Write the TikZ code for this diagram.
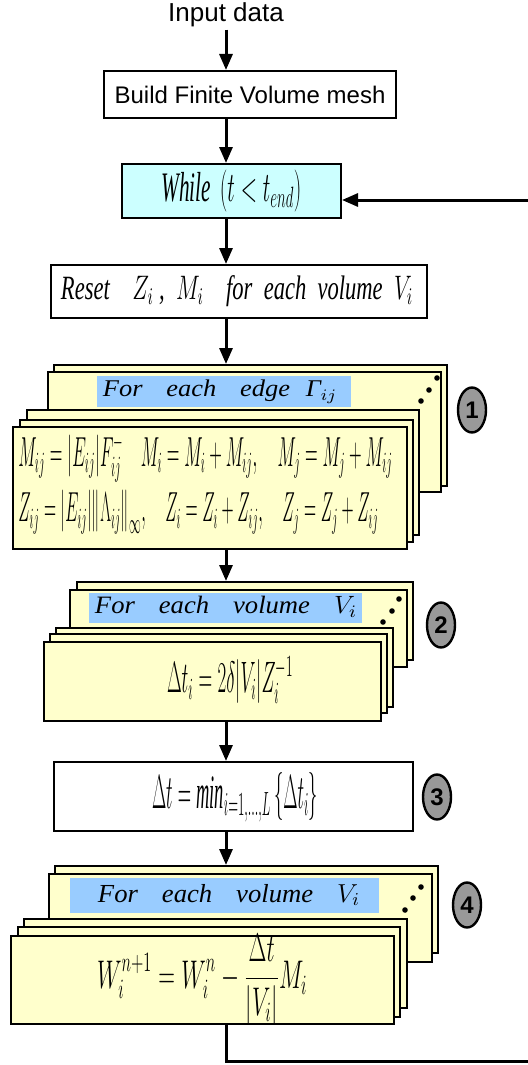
\RequirePackage{fix-cm}
\documentclass[tikz,border=0pt]{standalone}
\usepackage{fontspec}
\setmainfont{Liberation Serif}
\newfontfamily\arial{Liberation Sans}
\usepackage{graphicx}
\usetikzlibrary{arrows.meta,fit,shapes.geometric}

\definecolor{listok}{HTML}{FFFFCC}
\definecolor{goluboy}{HTML}{99CCFF}
\definecolor{biryuza}{HTML}{CCFFFF}
\definecolor{seryy}{HTML}{999999}

% сжатие формулы по ширине
\newcommand{\szh}[2]{\resizebox{#1}{\height}{#2}}

\begin{document}
\begin{tikzpicture}[x=0.5pt, y=-0.5pt, >={Triangle[length=8pt,width=6.5pt]},
    blok/.style={draw, line width=1pt, inner sep=0pt},
    list/.style={blok, fill=listok},
    metka/.style={fill=goluboy, inner sep=0pt},
    krug/.style={ellipse, draw, line width=1.2pt, fill=seryy, inner sep=0pt,
        minimum width=14pt, minimum height=22.5pt,
        font=\arial\bfseries\fontsize{12}{12}\selectfont},
    strelka/.style={->, line width=1.5pt}]
    \useasboundingbox (0,0) rectangle (528,1065);

    % Вход и построение сетки
    \node[font=\arial\fontsize{13}{15}\selectfont, inner sep=1pt] (vhod) at (226,15) {Input data};
    \node[blok, fit={(104,71) (396,118)}] (setka) {};
    \node[font=\arial\fontsize{12}{14}\selectfont] (tsetka) at (setka.center) {Build Finite Volume mesh};

    % Цикл по времени
    \node[blok, fill=biryuza, fit={(122,164) (341,218)}] (poka) {};
    \node (tpoka) at (poka.center) {\szh{70pt}{\fontsize{21}{24}\selectfont$\mathit{While}\ \left(t<t_{end}\right)$}};

    % Обнуление
    \node[blok, fill=white, fit={(51,265) (427,318)}] (sbros) {};
    \node (tsbros) at (237,291) {\szh{176pt}{\fontsize{17}{20}\selectfont\itshape Reset\quad $Z_i$\ ,\ \ $M_i$\quad for\ \ each\ \ volume\ \ $V_i$}};

    % 1) Цикл по рёбрам
    \node[list, fit={(54,365) (447,486)}] (r1a) {};
    \node[list, fit={(48,372) (441,492)}] (r1b) {};
    \node[list, fit={(27,410) (419,535)}] (r1c) {};
    \node[list, fit={(20,420) (413,542)}] (r1d) {};
    \node[list, fit={(13,427) (407,549)}] (r1e) {};
    \node[metka, fit={(97,376) (351,407)}] (m1) {};
    \node (tm1) at (220,392) {\szh{117pt}{\fontsize{12}{14}\selectfont\itshape For\hspace{0.9em}each\hspace{0.9em}edge\hspace{0.6em}Γ$_{ij}$}};
    \fill (421,401) circle (1.4pt) (429,390) circle (1.4pt) (437,378) circle (1.4pt);
    \node[krug] (k1) at (472,410) {1};
    \node[anchor=west, inner sep=0pt] (f1a) at (18,458) {\szh{187pt}{\fontsize{21}{24}\selectfont$M_{ij}=\Bigl|E_{ij}\Bigr|F^{-}_{ij}\quad M_i=M_i+M_{ij},\quad M_j=M_j+M_{ij}$}};
    \node[anchor=west, inner sep=0pt] (f1b) at (18,512) {\szh{180pt}{\fontsize{21}{24}\selectfont$Z_{ij}=\Bigl|E_{ij}\Bigr|\Bigl\|\Lambda_{ij}\Bigr\|_\infty,\quad Z_i=Z_i+Z_{ij},\quad Z_j=Z_j+Z_{ij}$}};

    % 2) Локальный шаг по объёмам
    \node[list, fit={(77,582) (413,660)}] (r2a) {};
    \node[list, fit={(70,590) (407,667)}] (r2b) {};
    \node[list, fit={(56,628) (393,707)}] (r2c) {};
    \node[list, fit={(50,634) (387,713)}] (r2d) {};
    \node[list, fit={(44,642) (381,721)}] (r2e) {};
    \node[metka, fit={(89,593) (362,623)}] (m2) {};
    \node (tm2) at (226,607) {\szh{131pt}{\fontsize{12.5}{14}\selectfont\itshape For\hspace{0.9em}each\hspace{0.9em}volume\hspace{0.9em}$V_i$}};
    \fill (383,622) circle (1.4pt) (392,611) circle (1.4pt) (399,599) circle (1.4pt);
    \node[krug] (k2) at (441,625) {2};
    \node (f2) at (230,680) {\szh{63pt}{\fontsize{22}{25}\selectfont$\Delta t_i=2\delta\Bigl|V_i\Bigr|Z_i^{-1}$}};

    % 3) Глобальный шаг
    \node[blok, fill=white, fit={(54,762) (413,831)}] (min) {};
    \node (f3) at (235,797) {\szh{83pt}{\fontsize{24}{27}\selectfont$\Delta t=\mathit{min}_{i=1,\ldots,L}\left\{\Delta t_i\right\}$}};
    \node[krug] (k3) at (437,797) {3};

    % 4) Обновление решения
    \node[list, fit={(55,866) (438,953)}] (r4a) {};
    \node[list, fit={(49,874) (432,962)}] (r4b) {};
    \node[list, fit={(24,919) (407,1008)}] (r4c) {};
    \node[list, fit={(18,927) (400,1017)}] (r4d) {};
    \node[list, fit={(11,936) (394,1024)}] (r4e) {};
    \node[metka, fit={(70,878) (379,913)}] (m4) {};
    \node (tm4) at (229,895) {\szh{131pt}{\fontsize{13}{15}\selectfont\itshape For\hspace{0.9em}each\hspace{0.9em}volume\hspace{0.9em}$V_i$}};
    \fill (405,910) circle (1.4pt) (413,898) circle (1.4pt) (421,887) circle (1.4pt);
    \node[krug] (k4) at (467,905) {4};
    \node (f4) at (202,980) {\szh{105pt}{\fontsize{20}{23}\selectfont$\displaystyle W_i^{n+1}=W_i^n-\frac{\Delta t}{\bigl|V_i\bigr|}M_i$}};

    % Стрелки
    \draw[strelka] (vhod) -- (vhod |- setka.north);
    \draw[strelka] (setka.south -| vhod) -- (vhod |- poka.north);
    \draw[strelka] (poka.south -| vhod) -- (vhod |- sbros.north);
    \draw[strelka] (sbros.south -| vhod) -- (vhod |- r1a.north);
    \draw[strelka] (r1e.south -| vhod) -- (vhod |- r2a.north);
    \draw[strelka] (r2e.south -| vhod) -- (vhod |- min.north);
    \draw[strelka] (min.south -| vhod) -- (vhod |- r4a.north);

    % Возврат к началу цикла
    \coordinate (ugol1) at (531,1061);
    \coordinate (ugol2) at (531,200);
    \draw[strelka] (r4e.south -| vhod) |- (ugol1) -- (ugol2) -- (ugol2 -| poka.east);
\end{tikzpicture}
\end{document}
